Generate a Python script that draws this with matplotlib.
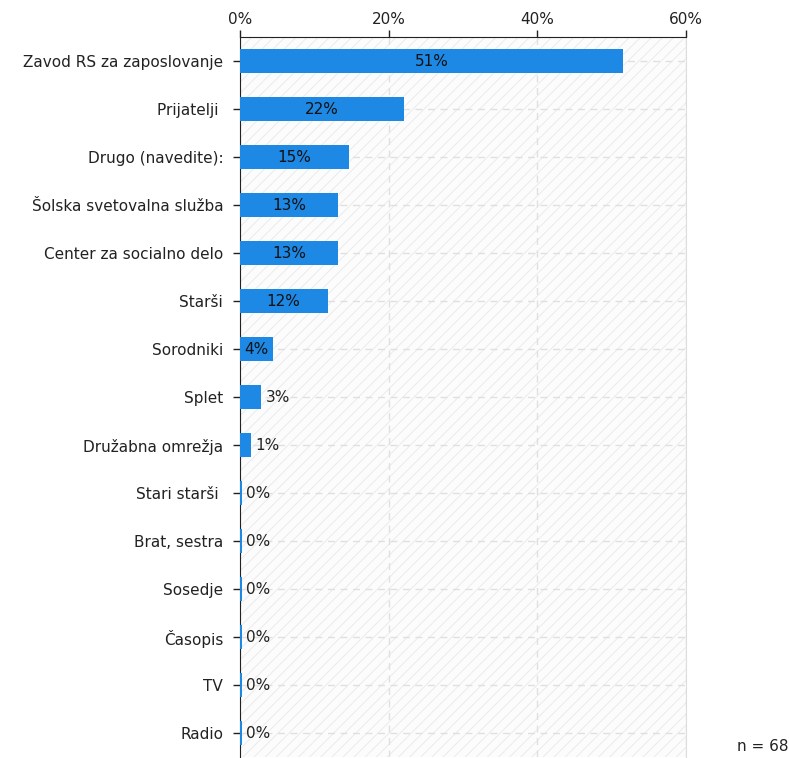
import matplotlib
matplotlib.use("Agg")
import matplotlib.pyplot as plt
from matplotlib.patches import Rectangle
from matplotlib.ticker import FuncFormatter

kategorije = ["Zavod RS za zaposlovanje", "Prijatelji ", "Drugo (navedite):",
              "Šolska svetovalna služba", "Center za socialno delo", "Starši",
              "Sorodniki", "Splet", "Družabna omrežja", "Stari starši ",
              "Brat, sestra", "Sosedje", "Časopis", "TV", "Radio"]
odstotki = [51.5, 22.1, 14.7, 13.2, 13.2, 11.8, 4.4, 2.9, 1.5, 0, 0, 0, 0, 0, 0]
oznake = ["51%", "22%", "15%", "13%", "13%", "12%", "4%", "3%", "1%",
          "0%", "0%", "0%", "0%", "0%", "0%"]
n = 68

plt.rcParams["font.family"] = ["DejaVu Sans"]
plt.rcParams["hatch.linewidth"] = 0.6
plt.rcParams["hatch.color"] = "#e8e8e8"

fig = plt.figure(figsize=(7.89, 7.58), dpi=100)
ax = fig.add_axes([0.304, 0.001, 0.5655, 0.950])

modra = "#1e88e5"
pozicije = list(range(len(kategorije)))
velikost = 11

# sraffirano ozadje
ax.add_patch(Rectangle((0, 0), 1, 1, transform=ax.transAxes, facecolor="#fcfcfc",
                       edgecolor="#e8e8e8", hatch="///", linewidth=0, zorder=0))

sirine = [v if v > 0 else 0.25 for v in odstotki]
ax.barh(pozicije, sirine, height=0.5, color=modra, zorder=3)

for y, v, t in zip(pozicije, odstotki, oznake):
    if v >= 4:
        ax.text(max(v / 2, 2.2), y, t, ha="center", va="center", fontsize=velikost, color="#111111", zorder=4)
    else:
        ax.text(max(v, 0.25) + 0.6, y, t, ha="left", va="center", fontsize=velikost, color="#222222", zorder=4)

ax.set_xlim(0, 60)
ax.set_ylim(len(kategorije) - 0.5, -0.5)
ax.set_xticks([0, 20, 40, 60])
ax.xaxis.set_major_formatter(FuncFormatter(lambda x, p: f"{x:.0f}%"))
ax.xaxis.tick_top()
ax.set_yticks(pozicije)
ax.set_yticklabels(kategorije)
ax.tick_params(axis="both", labelsize=velikost, colors="#222222", length=5, width=1)
ax.tick_params(axis="x", pad=2)
ax.tick_params(axis="y", pad=7)

ax.grid(True, color="#e0e0e0", linestyle=(0, (5, 4)), linewidth=1, zorder=1)
ax.set_axisbelow(True)

ax.spines["bottom"].set_visible(False)
ax.spines["right"].set_color("#dddddd")
ax.spines["top"].set_color("#222222")
ax.spines["left"].set_color("#222222")

fig.text(0.999, 0.005, f"n = {n}", ha="right", va="bottom", fontsize=velikost, color="#222222")

fig.savefig("out.png", dpi=100, facecolor="white")
